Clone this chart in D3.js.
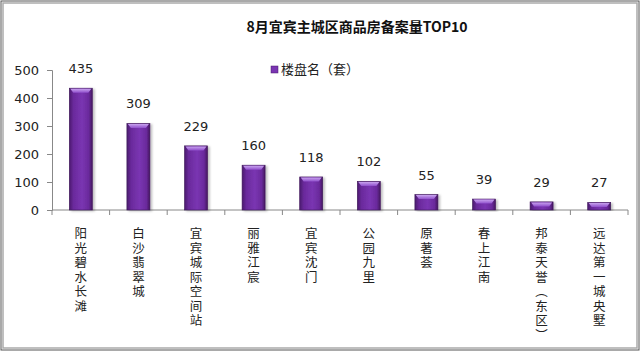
<!DOCTYPE html>
<html>
<head>
<meta charset="utf-8">
<script src="https://cdn.jsdelivr.net/npm/d3@7/dist/d3.min.js"></script>
<style>
  body { margin: 0; background: #fff; }
  svg { display: block; }
</style>
</head>
<body>
<div id="chartContainer"></div>
<script>
var title = "8月宜宾主城区商品房备案量TOP10"
var seriesName = "楼盘名（套）"
var categories = ["阳光碧水长滩", "白沙翡翠城", "宜宾城际空间站", "丽雅江宸", "宜宾沈门",
    "公园九里", "原著荟", "春上江南", "邦泰天誉（东区）", "远达第一城央墅"]
var values = [435, 309, 229, 160, 118, 102, 55, 39, 29, 27]
var yTicks = [0, 100, 200, 300, 400, 500]

var width = 640, height = 351
var margin = { top: 70, right: 12, bottom: 141, left: 52 }

var svg = d3.select('#chartContainer').append('svg')
    .attr('width', width)
    .attr('height', height)

// gradients for the bevelled bars
var defs = svg.append('defs')
var bodyGrad = defs.append('linearGradient').attr('id', 'barBody')
    .attr('x1', 0).attr('x2', 1).attr('y1', 0).attr('y2', 0)
bodyGrad.append('stop').attr('offset', '0%').attr('stop-color', '#4a1a6e')
bodyGrad.append('stop').attr('offset', '18%').attr('stop-color', '#6a2a9c')
bodyGrad.append('stop').attr('offset', '55%').attr('stop-color', '#7a35b2')
bodyGrad.append('stop').attr('offset', '85%').attr('stop-color', '#6a2a9c')
bodyGrad.append('stop').attr('offset', '100%').attr('stop-color', '#44175f')

var capGrad = defs.append('linearGradient').attr('id', 'barCap')
    .attr('x1', 0).attr('x2', 0).attr('y1', 0).attr('y2', 1)
capGrad.append('stop').attr('offset', '0%').attr('stop-color', '#c9a3ef')
capGrad.append('stop').attr('offset', '100%').attr('stop-color', '#9050cc')

var shadow = defs.append('filter').attr('id', 'barShadow')
    .attr('x', '-20%').attr('y', '-5%').attr('width', '160%').attr('height', '115%')
shadow.append('feDropShadow')
    .attr('dx', 2).attr('dy', 1).attr('stdDeviation', 1.2)
    .attr('flood-color', '#000').attr('flood-opacity', 0.25)

// outer frame
svg.append('rect')
    .attr('x', 1).attr('y', 1)
    .attr('width', width - 2).attr('height', height - 2)
    .attr('fill', 'none').attr('stroke', '#555').attr('stroke-width', 1)
svg.append('rect')
    .attr('x', 3).attr('y', 3)
    .attr('width', width - 6).attr('height', height - 6)
    .attr('fill', 'none').attr('stroke', '#aaa').attr('stroke-width', 1.5)

var x = d3.scaleBand()
    .domain(categories)
    .range([margin.left, width - margin.right])

var y = d3.scaleLinear()
    .domain([0, 500])
    .range([height - margin.bottom, margin.top])

// title
svg.append('text')
    .attr('x', 357).attr('y', 32)
    .attr('text-anchor', 'middle')
    .style('font-family', '"Noto Sans CJK SC", sans-serif')
    .style('font-size', '14px')
    .style('font-weight', 'bold')
    .style('fill', '#111')
    .text(title)

// legend
var legend = svg.append('g').attr('transform', 'translate(271,66)')
legend.append('rect')
    .attr('width', 7).attr('height', 7)
    .attr('fill', '#7a35b2').attr('stroke', '#4a1a6e').attr('stroke-width', 0.5)
legend.append('text')
    .attr('x', 10).attr('y', 8)
    .style('font-family', '"Noto Sans CJK SC", sans-serif')
    .style('font-size', '13px')
    .style('fill', '#222')
    .text(seriesName)

// y axis
var yAxis = svg.append('g')
    .attr('transform', 'translate(' + margin.left + ',0)')
    .call(d3.axisLeft(y).tickValues(yTicks).tickSize(5).tickPadding(8))
yAxis.selectAll('path, line').attr('stroke', '#888')
yAxis.selectAll('text')
    .style('font-family', '"DejaVu Sans", sans-serif')
    .style('font-size', '13px')
    .style('fill', '#222')

// x axis line with ticks between categories
var xAxisG = svg.append('g').attr('class', 'xAxis')
xAxisG.append('line')
    .attr('x1', margin.left).attr('x2', width - margin.right)
    .attr('y1', y(0)).attr('y2', y(0))
    .attr('stroke', '#888')
var bounds = categories.map(function(c) { return x(c) }).concat([x.range()[1]])
xAxisG.selectAll('.tick')
    .data(bounds)
    .enter().append('line')
    .attr('x1', function(d) { return d }).attr('x2', function(d) { return d })
    .attr('y1', y(0)).attr('y2', y(0) + 5)
    .attr('stroke', '#888')

// bars
var barW = 23
var bars = svg.append('g').selectAll('.bar')
    .data(values)
    .enter().append('g')
    .attr('transform', function(d, i) { return 'translate(' + (x(categories[i]) + x.bandwidth() / 2 - barW / 2) + ',0)' })

bars.append('rect')
    .attr('x', 0)
    .attr('y', function(d) { return y(d) })
    .attr('width', barW)
    .attr('height', function(d) { return y(0) - y(d) })
    .attr('fill', 'url(#barBody)')
    .attr('stroke', '#3d1458').attr('stroke-width', 0.6)
    .attr('filter', 'url(#barShadow)')

bars.append('path')
    .attr('d', function(d) {
        var t = y(d)
        return 'M1,' + (t + 0.5) + 'L' + (barW - 1) + ',' + (t + 0.5) +
            'L' + (barW - 4) + ',' + (t + 4.5) + 'L4,' + (t + 4.5) + 'Z'
    })
    .attr('fill', 'url(#barCap)')

// value labels
svg.append('g').selectAll('.val')
    .data(values)
    .enter().append('text')
    .attr('x', function(d, i) { return x(categories[i]) + x.bandwidth() / 2 })
    .attr('y', function(d) { return y(d) - 15 })
    .attr('text-anchor', 'middle')
    .style('font-family', '"DejaVu Sans", sans-serif')
    .style('font-size', '13px')
    .style('fill', '#222')
    .text(function(d) { return d })

// vertical category labels, one character per line
var catG = svg.append('g').selectAll('.cat')
    .data(categories)
    .enter().append('text')
    .attr('text-anchor', 'middle')
    .style('font-family', '"Noto Sans CJK SC", sans-serif')
    .style('font-size', '12.5px')
    .style('fill', '#222')

catG.each(function(c) {
    var t = d3.select(this)
    var cx = x(c) + x.bandwidth() / 2
    Array.from(c).forEach(function(ch, k) {
        var isParen = ch === '（' || ch === '）'
        t.append('tspan')
            .attr('x', cx)
            .attr('y', y(0) + 28 + k * 14.5)
            .text(isParen ? (ch === '（' ? '︵' : '︶') : ch)
    })
})
</script>
</body>
</html>
